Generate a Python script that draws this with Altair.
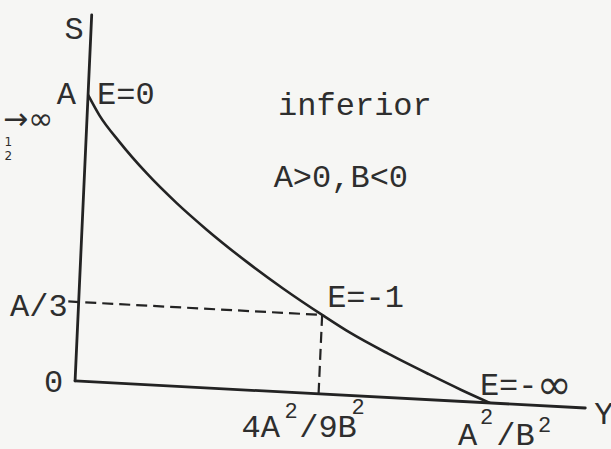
import altair as alt
import pandas as pd

# Demand-elasticity sketch for an inferior good (A > 0, B < 0).
# S is measured in units of A, Y in units of A²/B².
curve_Y = [0.000, 0.030, 0.080, 0.150, 0.225, 0.300, 0.400, 0.490, 0.587,
           0.656, 0.750, 0.850, 0.930, 1.000]
curve_S = [1.000, 0.930, 0.843, 0.737, 0.639, 0.552, 0.447, 0.361, 0.276,
           0.219, 0.153, 0.089, 0.040, 0.000]

# Marked values on the axes
y_ticks = [0.587, 1.000]                 # 4A²/9B², A²/B²
s_ticks = [0.0, 0.276, 1.0]              # 0, A/3, A
s_tick_labels = ["0", "A/3", "A"]
elasticity_labels = ["E=0", "E=-1", "E=-"]

S_AXIS_TOP = 1.28
Y_AXIS_END = 1.23

# The hand-ruled axes are not quite square: the S axis leans right and the
# Y axis drops slightly as it runs out.
SHEAR_X = 0.0313
SHEAR_Y = 0.0769
X_DOMAIN = [-0.181, 1.292]
Y_DOMAIN = [-0.238, 1.332]

INK = "#232323"
TYPE = "#2e2e2e"
MONO = "Liberation Mono"
FS = 32
SUP = 22

xs = alt.X("xs:Q", scale=alt.Scale(domain=X_DOMAIN, nice=False, zero=False), axis=None)
ys = alt.Y("ys:Q", scale=alt.Scale(domain=Y_DOMAIN, nice=False, zero=False), axis=None)
xs2 = alt.X2("xs2:Q")
ys2 = alt.Y2("ys2:Q")


def project(chart, suffix=""):
    return chart.transform_calculate(
        **{
            "xs" + suffix: f"datum.Y{suffix} + {SHEAR_X} * datum.S{suffix}",
            "ys" + suffix: f"datum.S{suffix} - {SHEAR_Y} * datum.Y{suffix}",
        }
    )


# Axes
axes_df = pd.DataFrame({
    "Y": [0.0, 0.0], "S": [0.0, 0.0],
    "Y2": [0.0, Y_AXIS_END], "S2": [S_AXIS_TOP, 0.0],
})
axes = project(project(alt.Chart(axes_df).mark_rule(
    color=INK, strokeWidth=2.8, strokeCap="round")), "2").encode(
    x=xs, y=ys, x2=xs2, y2=ys2)

# Dashed guides to the E = -1 point
guides_df = pd.DataFrame({
    "Y": [-0.025, y_ticks[0]], "S": [s_ticks[1], s_ticks[1]],
    "Y2": [y_ticks[0], y_ticks[0]], "S2": [s_ticks[1], 0.0],
})
guides = project(project(alt.Chart(guides_df).mark_rule(
    color=INK, strokeWidth=2.2, strokeDash=[11, 6])), "2").encode(
    x=xs, y=ys, x2=xs2, y2=ys2)

# The curve itself
curve_df = pd.DataFrame({"Y": curve_Y, "S": curve_S})
curve = project(alt.Chart(curve_df).mark_line(
    color=INK, strokeWidth=2.6, interpolate="monotone")).encode(
    x=xs, y=ys, order="Y:Q")


def label(text, Y, S, align="center", baseline="middle", dx=0, dy=0,
          size=FS, font=MONO):
    df = pd.DataFrame({"Y": [Y], "S": [S], "label": [text]})
    return project(alt.Chart(df).mark_text(
        align=align, baseline=baseline, dx=dx, dy=dy, fontSize=size,
        font=font, color=TYPE)).encode(x=xs, y=ys, text="label:N")


E1_Y, E1_S = y_ticks[0], s_ticks[1]
labels = [
    label("S", 0.0, S_AXIS_TOP, align="right", dx=-8, dy=14),
    label(s_tick_labels[2], 0.0, s_ticks[2], align="right", dx=-12, dy=-1),
    label(elasticity_labels[0], 0.0, s_ticks[2], align="left", dx=9, dy=-1),
    label(s_tick_labels[1], 0.0, s_ticks[1], align="right", dx=-11, dy=4),
    label(s_tick_labels[0], 0.0, s_ticks[0], align="right", dx=-12, dy=1),
    label(elasticity_labels[1], E1_Y, E1_S, align="left", dx=5, dy=-18),
    label(elasticity_labels[2], y_ticks[1], 0.0, align="left", dx=-10, dy=-18),
    label("∞", y_ticks[1], 0.0, align="center", dx=64, dy=-17,
          size=42, font="DejaVu Sans"),
    # tick labels on Y, exponents typed half a line up
    label("4A /9B", E1_Y, 0.0, align="left", baseline="alphabetic", dx=-77, dy=43),
    label("2", E1_Y, 0.0, align="left", baseline="alphabetic", dx=-34, dy=24, size=SUP),
    label("2", E1_Y, 0.0, align="left", baseline="alphabetic", dx=33, dy=20, size=SUP),
    label("A /B", y_ticks[1], 0.0, align="left", baseline="alphabetic", dx=-32, dy=42),
    label("2", y_ticks[1], 0.0, align="left", baseline="alphabetic", dx=-10, dy=21, size=SUP),
    label("2", y_ticks[1], 0.0, align="left", baseline="alphabetic", dx=48, dy=29, size=SUP),
    label("Y", Y_AXIS_END, 0.0, align="left", dx=9, dy=6),
    label("inferior", 0.644, 0.98, baseline="alphabetic"),
    label("A>0,B<0", 0.618, 0.726, baseline="alphabetic"),
    label("→∞", -0.081, 0.906, align="right", size=30, font="DejaVu Sans"),
    label("1", -0.081, 0.906, dx=-45, dy=22, size=12, font="DejaVu Sans"),
    label("2", -0.081, 0.906, dx=-45, dy=36, size=12, font="DejaVu Sans"),
]

chart = alt.layer(guides, axes, curve, *labels).properties(
    width=611, height=449, padding=0, autosize=alt.AutoSizeParams(type="none"),
    background="#f6f6f4",
).configure_view(stroke=None)

chart.save("out.html", embed_options={"renderer": "svg", "actions": False})
